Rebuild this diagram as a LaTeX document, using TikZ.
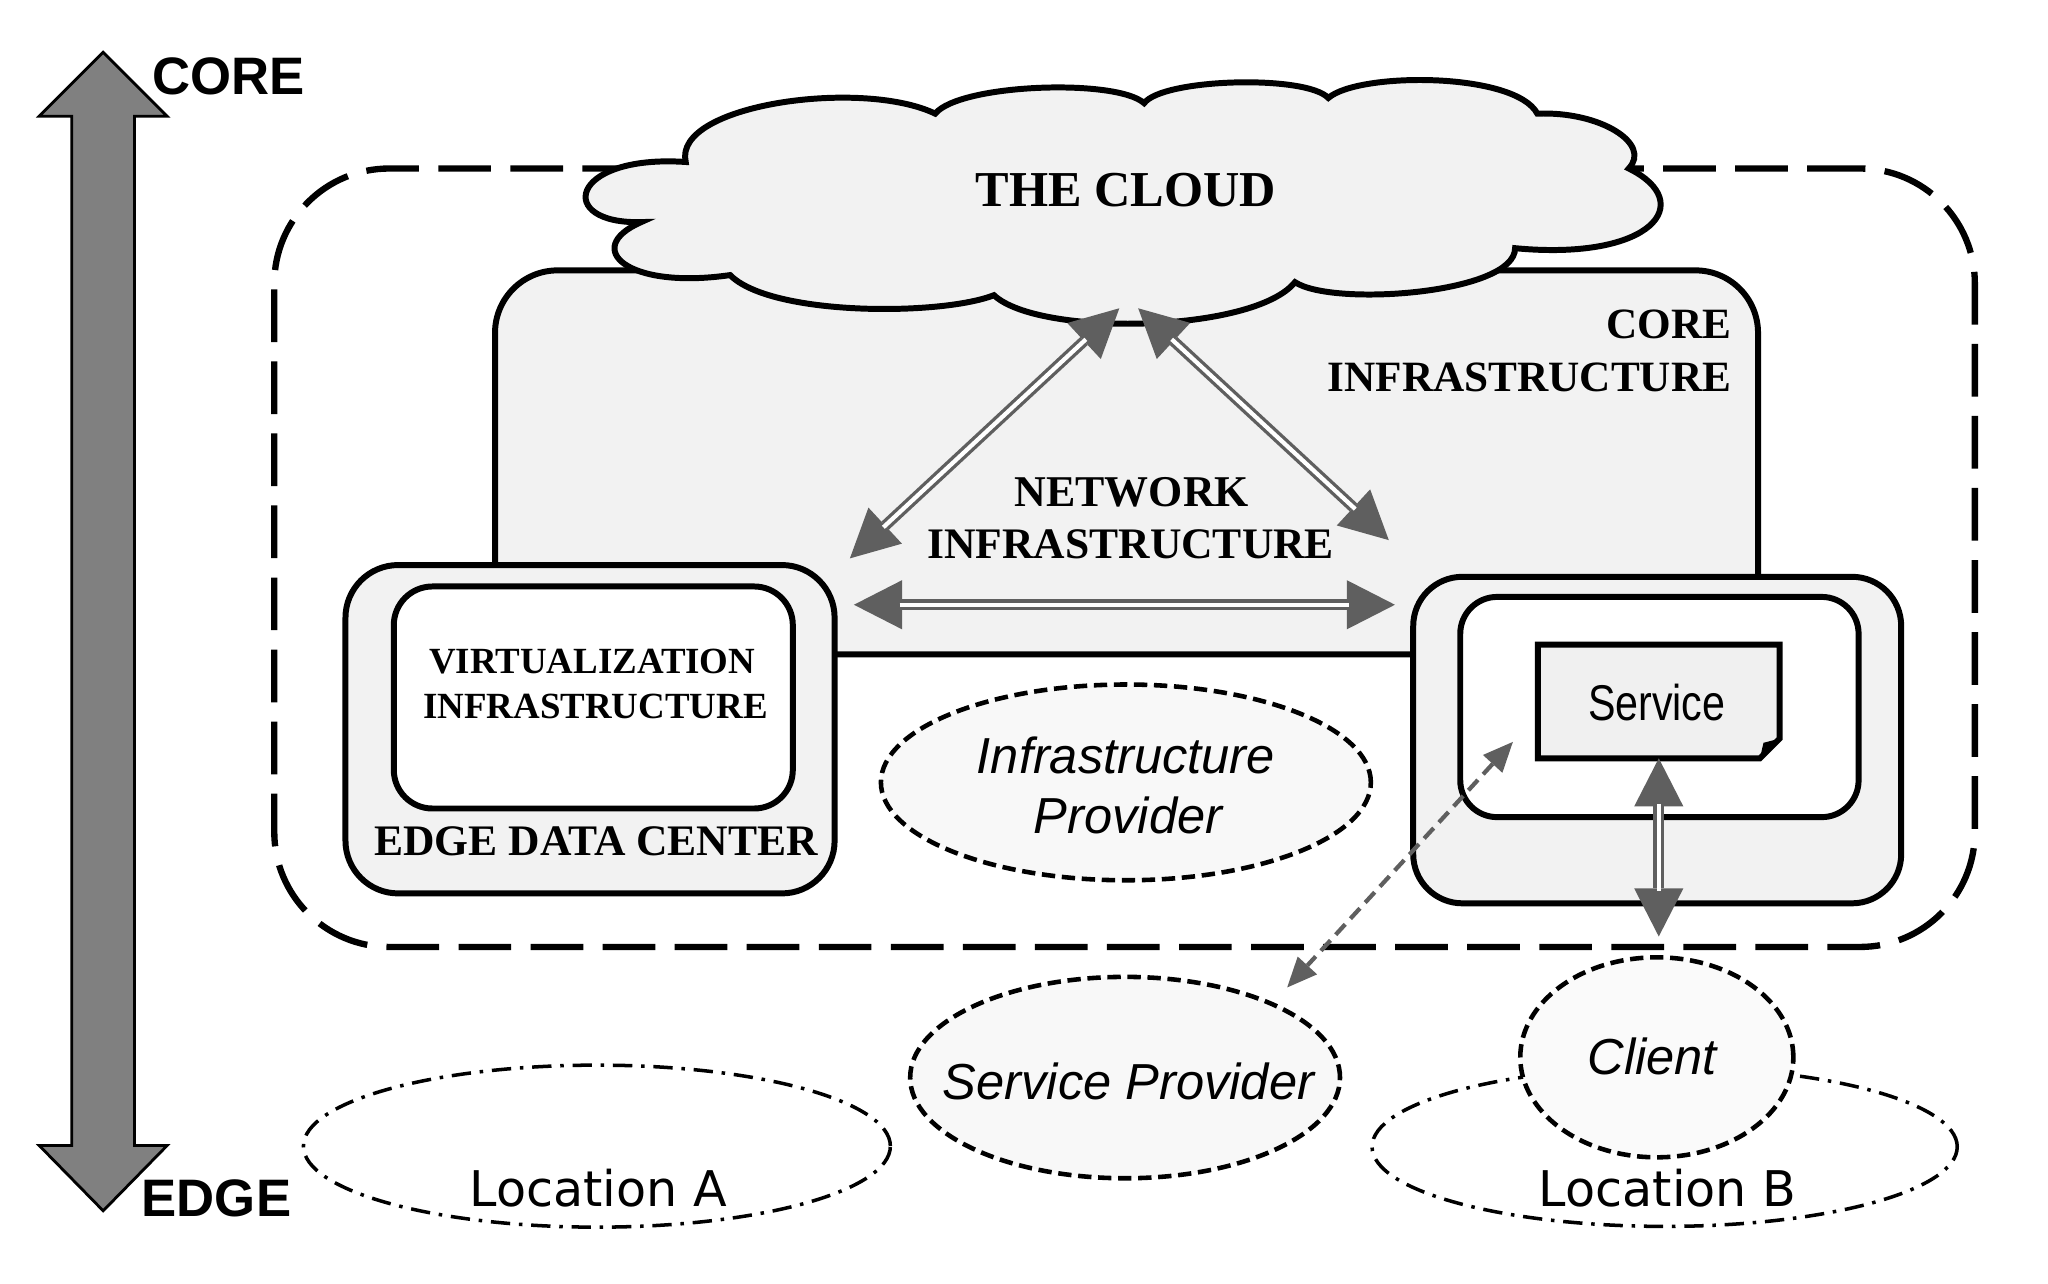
\documentclass[tikz,border=0pt]{standalone}
\usepackage{fontspec}
\setmainfont{Liberation Serif}
\newfontfamily\arialf{Liberation Sans}
\newfontfamily\arialn[FakeStretch=0.82]{Liberation Sans}
\newfontfamily\dejavuf{DejaVu Sans}
\usetikzlibrary{arrows.meta,shapes.geometric,fit}
\definecolor{lightfill}{HTML}{F2F2F2}
\definecolor{servfill}{HTML}{F0F0F0}
\definecolor{arrowgray}{HTML}{5F5F5F}
\definecolor{sidegray}{HTML}{808080}
\definecolor{ellfill}{HTML}{F8F8F8}
\definecolor{clientfill}{HTML}{FAFAFA}
\tikzset{
  boxsty/.style={draw=black, line width=1.7pt, line join=miter, inner sep=0pt},
  dashell/.style={ellipse, draw=black, line width=1.3pt, dash pattern=on 3.8pt off 1.9pt, inner sep=0pt},
  locell/.style={ellipse, draw=black, line width=1.0pt, dash pattern=on 5.5pt off 2.5pt on 1pt off 2.5pt, inner sep=0pt},
  bigtip/.tip={Triangle[length=13.7pt,width=14pt,line width=0pt]},
  dblouter/.style={draw=arrowgray, line width=3.1pt, bigtip-bigtip},
  dblinner/.style={draw=white, line width=1.2pt, shorten <=13pt, shorten >=13pt},
  dasharrow/.style={draw=arrowgray, line width=1.2pt, dash pattern=on 4pt off 2.2pt,
     {Triangle[length=8.5pt,width=7.5pt,line width=0pt]}-{Triangle[length=8.5pt,width=7.5pt,line width=0pt]}},
  serifb/.style={font=\bfseries\fontsize{#1}{#1}\selectfont, inner sep=0pt},
  sansit/.style={font=\arialf\itshape\fontsize{14.4}{16}\selectfont, inner sep=0pt},
  locfont/.style={font=\dejavuf\fontsize{14}{16}\selectfont, inner sep=0pt},
  sidefont/.style={font=\arialf\bfseries\fontsize{15}{17}\selectfont, inner sep=0pt}
}
\begin{document}
\begin{tikzpicture}[x=0.013061cm, y=-0.013061cm]
\useasboundingbox (0,0) rectangle (1568,983);
\fill[white] (0,0) rectangle (1568,983);

% outer dashed region
\node[fit={(210,129) (1512,725)}, boxsty, line width=1.8pt, dash pattern=on 15pt off 5.5pt, rounded corners=32.7pt] (outer) {};

% core infrastructure box
\node[fit={(379,207) (1346,501)}, boxsty, fill=lightfill, rounded corners=17.8pt] (core) {};

% cloud
\draw[line width=1.7pt, fill=lightfill]
 (525,124) .. controls (515,80) and (660,60) .. (716,87)
 .. controls (735,64) and (855,60) .. (876,79)
 .. controls (890,60) and (1000,57) .. (1017,75)
 .. controls (1040,55) and (1160,55) .. (1177,87)
 .. controls (1225,85) and (1265,110) .. (1247,129)
 .. controls (1300,155) and (1265,200) .. (1160,190)
 .. controls (1160,225) and (1020,235) .. (991.5,216)
 .. controls (960,255) and (795,258) .. (761,226)
 .. controls (720,242) and (590,242) .. (559,210.6)
 .. controls (480,222) and (445,190) .. (491,170)
 .. controls (425,172) and (435,118) .. (525,124) -- cycle;
\node[serifb=14.3, anchor=base] (cloudtxt) at (862,158.2) {THE CLOUD};

% edge data center
\node[fit={(264.5,432.6) (639,684)}, boxsty, fill=lightfill, rounded corners=15pt] (edc) {};
\node[fit={(301.5,449) (607,619)}, boxsty, fill=white, rounded corners=11pt] (virt) {};

% right site
\node[fit={(1082,441.6) (1455.6,691.6)}, boxsty, fill=lightfill, rounded corners=14pt] (site) {};
\node[fit={(1118,457) (1423,625.6)}, boxsty, fill=white, rounded corners=10.5pt] (host) {};
\node[fit={(1178,494) (1362,580)}, inner sep=0pt] (service) {};
\draw[line width=1.7pt, line join=miter, fill=servfill]
  (service.north west) -- (service.north east) -- ([yshift=5.6pt]service.south east)
  -- ([xshift=-5.6pt]service.south east) -- (service.south west) -- cycle;
\fill ([yshift=5.6pt]service.south east) -- ([xshift=-5.6pt]service.south east)
  -- ([xshift=-4.6pt,yshift=4.4pt]service.south east) -- cycle;
\node[font=\arialn\fontsize{14.3}{16}\selectfont, inner sep=0pt, anchor=base] (servtxt) at (1268.5,551.3) {Service};

% ellipses
\node[dashell, fill=ellfill, minimum width=139.4pt, minimum height=55.7pt] (infprov) at (862,599) {};
\node[locell, minimum width=167pt, minimum height=46.1pt] (locA) at (457,877.5) {};
\node[locell, minimum width=166.5pt, minimum height=45.3pt] (locB) at (1274.5,878) {};
\node[dashell, fill=ellfill, minimum width=122.3pt, minimum height=57.3pt] (servprov) at (861.4,825) {};
\node[dashell, fill=clientfill, minimum width=77.7pt, minimum height=56.9pt] (client) at (1268.5,809.5) {};

% arrow end points
\coordinate (a1s) at (857,236);
\coordinate (a1e) at (650.7,427.5);
\coordinate (a2s) at (871.4,236);
\coordinate (a2e) at (1063.3,413.5);
\coordinate (a3s) at (653.8,463);
\coordinate (a3e) at (1068,463);
\coordinate (a4e) at (1270,717);
\coordinate (d1s) at (1158.3,568);
\coordinate (d1e) at (985.5,756);

\draw[dblouter] (a1s) -- (a1e);
\draw[dblinner] (a1s) -- (a1e);
\draw[dblouter] (a2s) -- (a2e);
\draw[dblinner] (a2s) -- (a2e);
\draw[dblouter] (a3s) -- (a3e);
\draw[dblinner] (a3s) -- (a3e);
\draw[dblouter] (service.south) -- (a4e);
\draw[dblinner] (service.south) -- (a4e);
\draw[dasharrow] (d1s) -- (d1e);

% side arrow
\draw[fill=sidegray, line width=0.8pt, line join=miter] (79,40) -- (128,89) -- (103,89) -- (103,877)
  -- (128,877) -- (79,927) -- (30,877) -- (55,877) -- (55,89) -- (30,89) -- cycle;
\node[sidefont, anchor=base west] (coretop) at (116,72.7) {CORE};
\node[sidefont, anchor=base west] (edgebot) at (108,931.6) {EDGE};

% texts
\node[serifb=12.3, anchor=base east] (coret1) at (1326,259) {CORE};
\node[serifb=12.3, anchor=base east] (coret2) at (1326,300) {INFRASTRUCTURE};
\node[serifb=12.5, anchor=base] (nett1) at (866.5,388) {NETWORK};
\node[serifb=12.4, anchor=base] (nett2) at (865.7,427.5) {INFRASTRUCTURE};
\node[serifb=10.5, anchor=base] (virtt1) at (453.5,515.5) {VIRTUALIZATION};
\node[serifb=10.5, anchor=base] (virtt2) at (456,550) {INFRASTRUCTURE};
\node[serifb=12.4, anchor=base] (edct) at (456.4,654.7) {EDGE DATA CENTER};
\node[sansit, anchor=base] (ipt1) at (862,592) {Infrastructure};
\node[sansit, anchor=base] (ipt2) at (863.7,638) {Provider};
\node[sansit, anchor=base] (spt) at (864,842) {Service Provider};
\node[sansit, anchor=base] (clt) at (1265,823) {Client};
\node[locfont, anchor=base] (lat) at (458,924) {Location A};
\node[locfont, anchor=base] (lbt) at (1276.8,924) {Location B};
\end{tikzpicture}
\end{document}
